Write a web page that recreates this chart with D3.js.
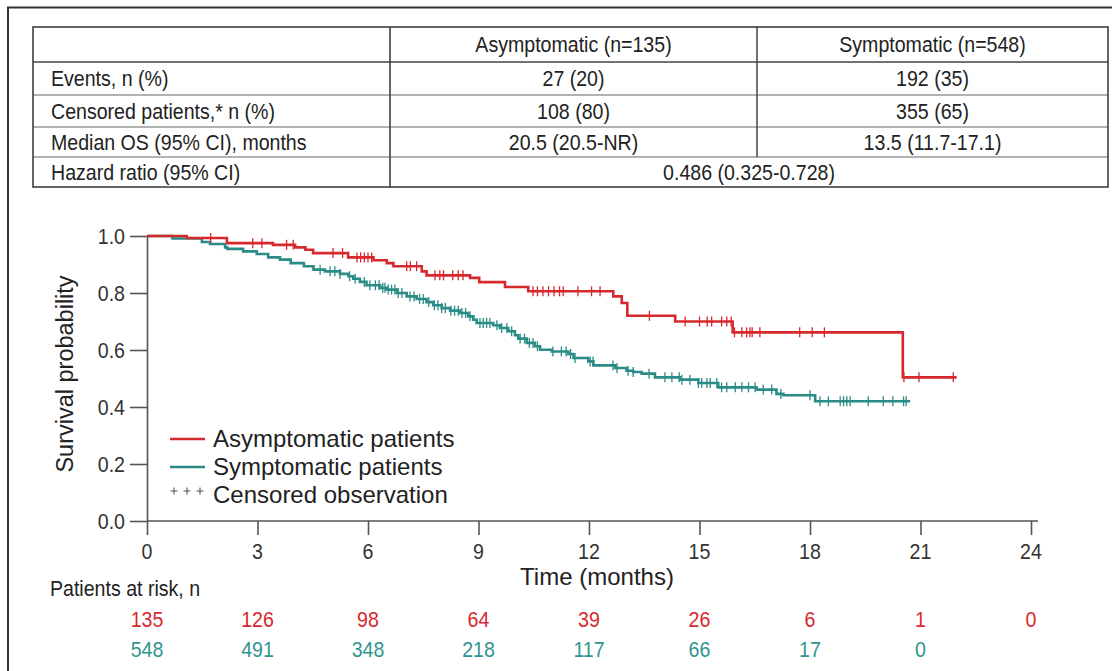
<!DOCTYPE html>
<html>
<head>
<meta charset="utf-8">
<script src="https://cdn.jsdelivr.net/npm/d3@7"></script>
<style>
  body { margin: 0; background: #fff; }
  svg { display: block; }
  text { font-family: 'Liberation Sans', Arial, sans-serif; }
</style>
</head>
<body>
<script>
// ---------------- data ----------------
var tableHeader = ["", "Asymptomatic (n=135)", "Symptomatic (n=548)"];
var tableRows = [
  ["Events, n (%)", "27 (20)", "192 (35)"],
  ["Censored patients,* n (%)", "108 (80)", "355 (65)"],
  ["Median OS (95% CI), months", "20.5 (20.5-NR)", "13.5 (11.7-17.1)"]
];
var hazardRow = ["Hazard ratio (95% CI)", "0.486 (0.325-0.728)"];

// Asymptomatic KM steps (time in months, survival after the step)
var asymTimes = [0, 1.08, 2.17, 3.42, 4.02, 4.3, 4.51, 5.46, 6.15, 6.51, 6.69, 7.46, 7.59, 8.77, 9.02, 9.72, 10.35, 12.66, 12.89, 13.04, 14.34, 15.9, 20.52];
var asymSurv  = [1.0, 0.993, 0.975, 0.969, 0.96, 0.952, 0.94, 0.925, 0.915, 0.905, 0.894, 0.876, 0.862, 0.853, 0.838, 0.821, 0.806, 0.788, 0.765, 0.72, 0.70, 0.662, 0.504];
var asymEnd = 21.98;
var asymCensor = [1.73, 2.87, 3.12, 3.79, 3.97, 5.05, 5.31, 5.7, 5.8, 5.9, 6.0, 6.1, 7.05, 7.15, 7.32, 7.82, 7.95, 8.05, 8.3, 8.45, 8.58,
  10.48, 10.6, 10.75, 10.9, 11.05, 11.2, 11.3, 11.7, 12.07, 12.3, 13.64, 14.61, 15.0, 15.21, 15.33, 15.6, 15.74, 15.86,
  15.95, 16.15, 16.28, 16.37, 16.43, 16.64, 17.72, 18.06, 18.39, 20.55, 20.96, 21.89];

// Symptomatic KM steps
var symTimes = [0, 0.69, 1.49, 1.71, 2.12, 2.18, 2.61, 2.98, 3.29, 3.61, 3.9, 4.26, 4.52, 4.83, 5.24, 5.47, 5.6, 5.78, 5.96, 6.33,
  6.51, 6.78, 7.05, 7.32, 7.59, 7.77, 8.0, 8.23, 8.5, 8.72, 8.86, 8.95, 9.4, 9.58, 9.81, 9.99, 10.08, 10.31, 10.53, 10.67, 10.99,
  11.44, 11.58, 11.98, 12.12, 12.71, 13.02, 13.2, 13.43, 13.79, 14.47, 14.97, 15.51, 16.55, 17.09, 17.28, 18.14];
var symSurv = [1.0, 0.991, 0.979, 0.972, 0.96, 0.955, 0.946, 0.937, 0.925, 0.917, 0.905, 0.894, 0.882, 0.876, 0.867, 0.859, 0.85, 0.839, 0.827, 0.818,
  0.812, 0.80, 0.788, 0.779, 0.768, 0.757, 0.747, 0.738, 0.73, 0.718, 0.706, 0.695, 0.687, 0.677, 0.666, 0.652, 0.64, 0.625, 0.613, 0.601, 0.595,
  0.586, 0.572, 0.56, 0.546, 0.537, 0.527, 0.523, 0.517, 0.504, 0.496, 0.484, 0.469, 0.461, 0.446, 0.441, 0.42];
var symEnd = 20.72;
var symCensor = [4.7, 4.97, 5.1, 5.24, 5.5, 5.65, 5.9, 6.05, 6.2, 6.3, 6.4, 6.46, 6.55, 6.64, 6.73, 6.82, 6.92,
  7.14, 7.25, 7.4, 7.5, 7.65, 7.8, 7.9, 8.0, 8.1, 8.25, 8.35, 8.45, 8.55, 8.65, 8.77, 9.04, 9.13, 9.22, 9.31,
  9.5, 9.63, 9.77, 9.9, 10.13, 10.25, 10.38, 10.48, 10.6, 11.02, 11.25, 11.38, 11.5, 11.62, 12.03, 12.11, 12.65, 12.76,
  13.06, 13.2, 13.63, 14.06, 14.25, 14.45, 14.52, 14.74, 14.97, 15.06, 15.2, 15.29, 15.47, 15.6, 15.74, 15.97, 16.15,
  16.33, 16.51, 16.73, 16.96, 17.21, 18.0, 18.27, 18.5, 18.82, 18.91, 19.0, 19.09, 19.58, 19.99, 20.25, 20.54, 20.61];

var xTicks = [0, 3, 6, 9, 12, 15, 18, 21, 24];
var yTicks = [0, 0.2, 0.4, 0.6, 0.8, 1.0];
var riskAsym = [135, 126, 98, 64, 39, 26, 6, 1, 0];
var riskSym = [548, 491, 348, 218, 117, 66, 17, 0];

var redCol = "#d7282d";
var tealCol = "#2b8c87";
var textCol = "#222";
var narrowScale = 0.87;   // squeeze Liberation Sans into a condensed look
var narrowSize = "22.5px";

var svg = d3.select("body").append("svg")
    .attr("width", 1112)
    .attr("height", 671);

// condensed text helper
function narrowText(parent, px, py, anchor, color, str) {
  return parent.append("text")
    .attr("transform", "translate(" + px + "," + py + ") scale(" + narrowScale + ",1)")
    .attr("dy", "0.35em")
    .attr("text-anchor", anchor)
    .attr("font-size", narrowSize)
    .attr("fill", color)
    .text(str);
}

//******************************************************************************
//****************************** Frame *****************************************
svg.append("path")
  .attr("d", "M8,671 L8,7.5 L1112,7.5")
  .attr("fill", "none")
  .attr("stroke", "#333")
  .attr("stroke-width", 2);

//******************************************************************************
//****************************** Table *****************************************
var tLeft = 33, tRight = 1108, tCol1 = 390, tCol2 = 757;
var rowLines = [27, 62, 95, 127, 157, 187];

// inner row lines
svg.selectAll("line.rowline")
  .data(rowLines.slice(1, -1))
  .enter().append("line")
    .attr("class", "rowline")
    .attr("x1", tLeft).attr("x2", tRight)
    .attr("y1", function(d){ return d; }).attr("y2", function(d){ return d; })
    .attr("stroke", function(d, i){ return i == 0 ? "#444" : "#999"; })
    .attr("stroke-width", 1.5);

svg.append("line")
  .attr("x1", tCol1).attr("x2", tCol1)
  .attr("y1", rowLines[0]).attr("y2", rowLines[5])
  .attr("stroke", "#333").attr("stroke-width", 1.5);
svg.append("line")
  .attr("x1", tCol2).attr("x2", tCol2)
  .attr("y1", rowLines[0]).attr("y2", rowLines[4])
  .attr("stroke", "#444").attr("stroke-width", 1.5);

svg.append("rect")
  .attr("x", tLeft).attr("y", rowLines[0])
  .attr("width", tRight - tLeft).attr("height", rowLines[5] - rowLines[0])
  .attr("fill", "none").attr("stroke", "#333").attr("stroke-width", 1.5);

function rowMid(i){ return (rowLines[i] + rowLines[i + 1]) / 2; }
var colMid = [51, (tCol1 + tCol2) / 2, (tCol2 + tRight) / 2];

tableHeader.slice(1).forEach(function(d, i) {
  narrowText(svg, colMid[i + 1], rowMid(0), "middle", textCol, d);
});

tableRows.forEach(function(row, r) {
  row.forEach(function(d, i) {
    narrowText(svg, colMid[i], rowMid(r + 1), i == 0 ? "start" : "middle", textCol, d);
  });
});

narrowText(svg, colMid[0], rowMid(4), "start", textCol, hazardRow[0]);
narrowText(svg, (tCol1 + tRight) / 2, rowMid(4), "middle", textCol, hazardRow[1]);

//******************************************************************************
//****************************** Axes ******************************************
var x = d3.scaleLinear().domain([0, 24]).range([147, 1031]);
var y = d3.scaleLinear().domain([0, 1]).range([521, 236]);

var xAxis = svg.append("g")
  .attr("transform", "translate(0,521)")
  .call(d3.axisBottom(x).tickValues(xTicks).tickSize(14).tickSizeOuter(0).tickFormat(""));
xAxis.select(".domain").attr("d", "M" + x(0) + ",0H1038");

var yAxis = svg.append("g")
  .attr("transform", "translate(147,0)")
  .call(d3.axisLeft(y).tickValues(yTicks).tickSize(17).tickSizeOuter(0).tickFormat(""));

[xAxis, yAxis].forEach(function(g) {
  g.selectAll(".domain").attr("stroke", "#555").attr("stroke-width", 1.6);
  g.selectAll(".tick line").attr("stroke", "#555").attr("stroke-width", 1.6);
});

// tick labels (condensed)
xTicks.forEach(function(t) {
  narrowText(svg, x(t), 551, "middle", "#333", t);
});
yTicks.forEach(function(t) {
  narrowText(svg, 125, y(t), "end", "#333", d3.format(".1f")(t));
});

svg.append("text")
  .attr("x", 597).attr("y", 577)
  .attr("dy", "0.35em")
  .attr("text-anchor", "middle")
  .attr("font-size", "24px")
  .attr("fill", textCol)
  .text("Time (months)");

svg.append("text")
  .attr("transform", "translate(65,374) rotate(-90)")
  .attr("dy", "0.35em")
  .attr("text-anchor", "middle")
  .attr("font-size", "23.5px")
  .attr("fill", textCol)
  .text("Survival probability");

//******************************************************************************
//****************************** Curves ****************************************
var line = d3.line()
  .x(function(d){ return x(d[0]); })
  .y(function(d){ return y(d[1]); })
  .curve(d3.curveStepAfter);

function stepPoints(times, surv, end) {
  var pts = times.map(function(t, i){ return [t, surv[i]]; });
  pts.push([end, surv[surv.length - 1]]);
  return pts;
}
function survAt(times, surv, t) {
  var i = d3.bisectRight(times, t) - 1;
  return surv[Math.max(0, i)];
}

var groups = [
  { times: symTimes, surv: symSurv, end: symEnd, censor: symCensor, color: tealCol },
  { times: asymTimes, surv: asymSurv, end: asymEnd, censor: asymCensor, color: redCol }
];

groups.forEach(function(gr) {
  svg.append("path")
    .datum(stepPoints(gr.times, gr.surv, gr.end))
    .attr("fill", "none")
    .attr("stroke", gr.color)
    .attr("stroke-width", 2.6)
    .attr("d", line);

  svg.selectAll(null)
    .data(gr.censor)
    .enter().append("line")
      .attr("x1", function(d){ return x(d); })
      .attr("x2", function(d){ return x(d); })
      .attr("y1", function(d){ return y(survAt(gr.times, gr.surv, d)) - 5; })
      .attr("y2", function(d){ return y(survAt(gr.times, gr.surv, d)) + 5; })
      .attr("stroke", gr.color)
      .attr("stroke-width", 1.3);
});

//******************************************************************************
//****************************** Legend ****************************************
var legendItems = ["Asymptomatic patients", "Symptomatic patients", "Censored observation"];
var legendCols = [redCol, tealCol, "#555"];

legendItems.forEach(function(label, i) {
  var ly = 439 + i * 28;
  if (i < 2) {
    svg.append("line")
      .attr("x1", 170).attr("x2", 205)
      .attr("y1", ly).attr("y2", ly)
      .attr("stroke", legendCols[i]).attr("stroke-width", 2.6);
  } else {
    [174, 187, 200].forEach(function(px) {
      svg.append("path")
        .attr("d", "M" + (px - 3.5) + "," + (ly - 4) + "h7M" + px + "," + (ly - 7.5) + "v7")
        .attr("stroke", "#555").attr("stroke-width", 1.1).attr("fill", "none");
    });
  }
  svg.append("text")
    .attr("x", 213).attr("y", ly)
    .attr("dy", "0.35em")
    .attr("font-size", "24px")
    .attr("fill", textCol)
    .text(label);
});

//******************************************************************************
//****************************** At risk ***************************************
narrowText(svg, 50, 588, "start", textCol, "Patients at risk, n");

[[riskAsym, redCol, 619], [riskSym, "#2f958f", 649]].forEach(function(r) {
  r[0].forEach(function(d, i) {
    narrowText(svg, x(xTicks[i]), r[2], "middle", r[1], d);
  });
});
</script>
</body>
</html>
